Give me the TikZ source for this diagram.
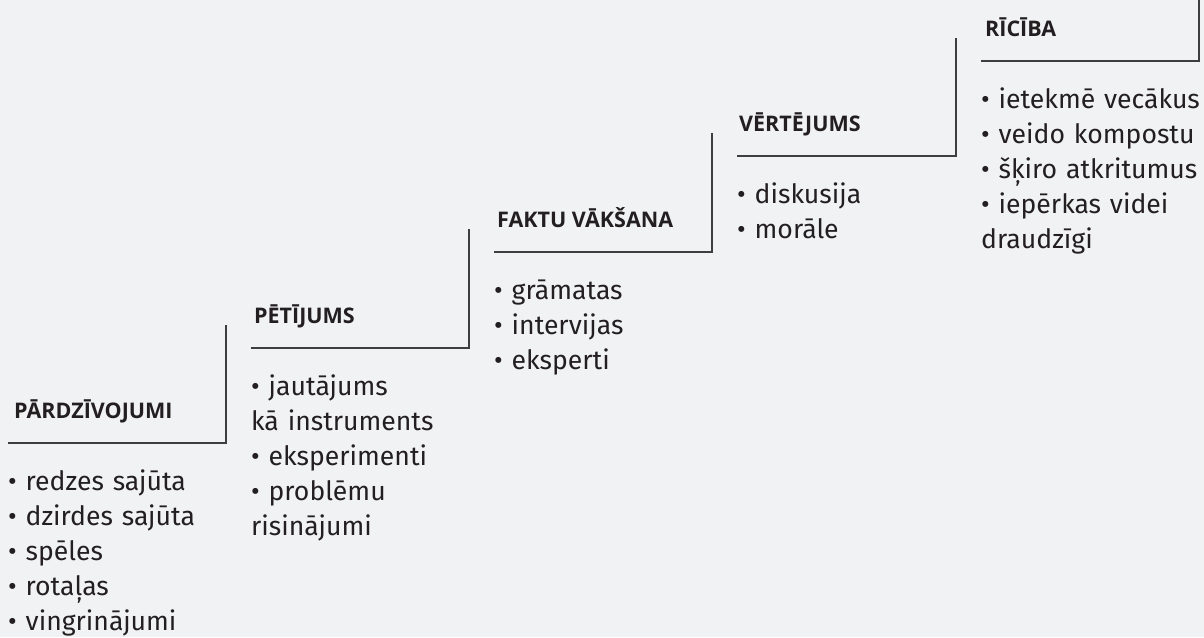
\documentclass[tikz,border=0pt]{standalone}
\usepackage{fontspec}
\setmainfont{Fira Sans}
\newfontfamily\stairfont{Open Sans}
\usepackage{xcolor}
\definecolor{page-bg}{RGB}{241,242,244}
\definecolor{ink}{RGB}{35,31,32}
\definecolor{rule-gray}{RGB}{62,62,64}
\usetikzlibrary{positioning}

\begin{document}
\begin{tikzpicture}[
    x=1pt, y=-1pt,
    stair line/.style={
        draw=rule-gray,
        line width=1.3pt
    },
    stair title/.style={
        font=\stairfont\fontsize{21.5}{26}\bfseries,
        text=ink,
        anchor=base west,
        inner sep=0pt
    },
    stair items/.style={
        font=\fontsize{26.6}{35}\selectfont,
        text=ink,
        anchor=base west,
        inner sep=0pt,
        text width=240pt,
        align=left
    }
]

% Page background
\fill[page-bg] (0,0) rectangle (1204,637);
\useasboundingbox (0,0) rectangle (1204,637);

% === STEP 1 ===
\coordinate (c1) at (8,443);
\draw[stair line] (c1) -- ++(218,0) -- ++(0,-118);
\node[stair title] (t1) at ([xshift=6pt,yshift=25pt]c1) {PĀRDZĪVOJUMI};
\node[stair items] (l1) at ([yshift=-47pt]c1) {
    • redzes sajūta\\
    • dzirdes sajūta\\
    • spēles\\
    • rotaļas\\
    • vingrinājumi
};

% === STEP 2 ===
\coordinate (c2) at (251,348);
\draw[stair line] (c2) -- ++(218,0) -- ++(0,-119);
\node[stair title] (t2) at ([xshift=3pt,yshift=25pt]c2) {PĒTĪJUMS};
\node[stair items] (l2) at ([yshift=-47pt]c2) {
    • jautājums\\
    kā instruments\\
    • eksperimenti\\
    • problēmu\\
    risinājumi
};

% === STEP 3 ===
\coordinate (c3) at (494,252);
\draw[stair line] (c3) -- ++(218,0) -- ++(0,-119);
\node[stair title] (t3) at ([xshift=3pt,yshift=25pt]c3) {FAKTU VĀKŠANA};
\node[stair items] (l3) at ([yshift=-47pt]c3) {
    • grāmatas\\
    • intervijas\\
    • eksperti
};

% === STEP 4 ===
\coordinate (c4) at (737,156);
\draw[stair line] (c4) -- ++(219,0) -- ++(0,-118);
\node[stair title] (t4) at ([xshift=2pt,yshift=25pt]c4) {VĒRTĒJUMS};
\node[stair items] (l4) at ([yshift=-47pt]c4) {
    • diskusija\\
    • morāle
};

% === STEP 5 ===
\coordinate (c5) at (981,61);
\draw[stair line] (c5) -- ++(218,0) -- ++(0,-61);
\node[stair title] (t5) at ([xshift=4pt,yshift=25pt]c5) {RĪCĪBA};
\node[stair items] (l5) at ([yshift=-47pt]c5) {
    • ietekmē vecākus\\
    • veido kompostu\\
    • šķiro atkritumus\\
    • iepērkas videi\\
    draudzīgi
};

\end{tikzpicture}
\end{document}
